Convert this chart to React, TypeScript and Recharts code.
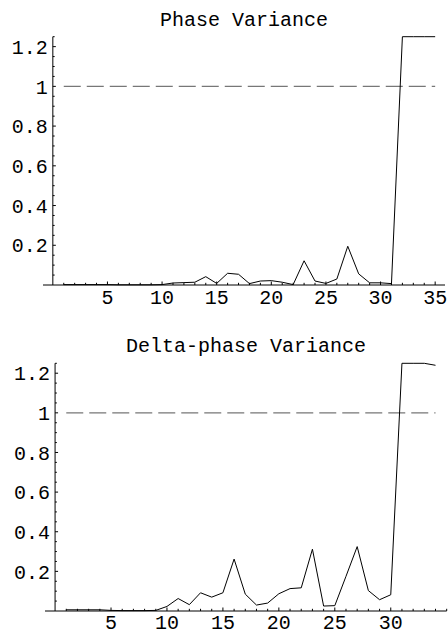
import { LineChart, Line, XAxis, YAxis, ReferenceLine } from "recharts";

// step index on the x axis
const phaseSteps = [
  1, 2, 3, 4, 5, 6, 7, 8, 9, 10, 11, 12, 13, 14, 15, 16, 17, 18,
  19, 20, 21, 22, 23, 24, 25, 26, 27, 28, 29, 30, 31, 32, 33, 34, 35,
];
const phaseVariance = [
  0.002, 0.002, 0.002, 0.002, 0.002, 0.001, 0.001, 0.001, 0.001, 0.002,
  0.01, 0.012, 0.014, 0.042, 0.008, 0.059, 0.054, 0.007, 0.02, 0.022,
  0.014, 0.002, 0.122, 0.02, 0.008, 0.03, 0.195, 0.056, 0.011, 0.011,
  0.007, 1.25, 1.25, 1.25, 1.25,
];

const deltaSteps = [
  1, 2, 3, 4, 5, 6, 7, 8, 9, 10, 11, 12, 13, 14, 15, 16, 17,
  18, 19, 20, 21, 22, 23, 24, 25, 26, 27, 28, 29, 30, 31, 32, 33, 34,
];
const deltaVariance = [
  0.006, 0.006, 0.006, 0.006, 0.003, 0.002, 0.002, 0.002, 0.003, 0.023,
  0.063, 0.032, 0.092, 0.07, 0.092, 0.262, 0.085, 0.03, 0.04, 0.087,
  0.113, 0.117, 0.312, 0.025, 0.027, 0.175, 0.325, 0.103, 0.057, 0.082,
  1.25, 1.25, 1.25, 1.24,
];

const threshold = 1;
const yLabels = [0.2, 0.4, 0.6, 0.8, 1, 1.2];
const phaseXLabels = [5, 10, 15, 20, 25, 30, 35];
const deltaXLabels = [5, 10, 15, 20, 25, 30];

const FONT = '"Liberation Mono", "DejaVu Sans Mono", monospace';
const W = 448;

interface PanelProps {
  title: string;
  titleX: number;
  titleY: number;
  steps: number[];
  values: number[];
  xLabels: number[];
  xMin: number;
  xMax: number;
  height: number;
  margin: { top: number; right: number; bottom: number; left: number };
  labelOffset: number;
}

function Panel({ title, titleX, titleY, steps, values, xLabels, xMin, xMax, height, margin, labelOffset }: PanelProps) {
  const data = steps.map((s, i) => ({ step: s, v: values[i] }));
  // axes take 1px each, so the plot starts one pixel in
  const plotW = W - margin.left - 1 - margin.right;
  // the y axis sits at x = 0, not at the left edge of the plot
  const axisShift = (plotW * (0 - xMin)) / (xMax - xMin);

  const xTicks: number[] = [];
  for (let t = 1; t <= Math.floor(xMax); t++) xTicks.push(t);
  const yTicks: number[] = [];
  for (let k = 1; k <= 25; k++) yTicks.push(Math.round(k * 5) / 100);

  const isMajorY = (v: number) => yLabels.some((l) => Math.abs(l - v) < 1e-6);

  const YTick = (props: any) => {
    const { x, y, payload } = props;
    const major = isMajorY(payload.value);
    const ax = x + axisShift;
    return (
      <g>
        <line x1={ax} x2={ax + (major ? 3 : 1.8)} y1={y} y2={y} stroke="#000" strokeWidth={1} />
        {major && (
          <text x={ax - 5} y={y} dy="0.36em" textAnchor="end" fontFamily={FONT} fontSize={20} fill="#000">
            {String(payload.value)}
          </text>
        )}
      </g>
    );
  };

  const XTick = (props: any) => {
    const { x, y, payload } = props;
    const major = xLabels.includes(payload.value);
    return (
      <g>
        <line x1={x} x2={x} y1={y} y2={y - (major ? 3.5 : 2.2)} stroke="#000" strokeWidth={1} />
        {major && (
          <text x={x} y={y + labelOffset} textAnchor="middle" fontFamily={FONT} fontSize={20} fill="#000">
            {String(payload.value)}
          </text>
        )}
      </g>
    );
  };

  return (
    <div style={{ position: "relative", width: W, height }}>
      <LineChart width={W} height={height} data={data} margin={margin}>
        <XAxis
          type="number"
          dataKey="step"
          domain={[xMin, xMax]}
          ticks={xTicks}
          interval={0}
          height={1}
          tickSize={0}
          tickMargin={0}
          tickLine={false}
          tick={XTick}
          axisLine={false}
        />
        <YAxis
          type="number"
          domain={[0, 1.25]}
          ticks={yTicks}
          interval={0}
          width={1}
          tickSize={0}
          tickMargin={0}
          tickLine={false}
          tick={YTick}
          axisLine={false}
        />
        <ReferenceLine y={0} stroke="#000" strokeWidth={1} />
        <ReferenceLine x={0} stroke="#000" strokeWidth={1} />
        <ReferenceLine
          segment={[
            { x: steps[0], y: threshold },
            { x: steps[steps.length - 1], y: threshold },
          ]}
          stroke="#777"
          strokeWidth={1.1}
          strokeDasharray="17 6"
        />
        <Line
          type="linear"
          dataKey="v"
          stroke="#000"
          strokeWidth={1}
          dot={false}
          isAnimationActive={false}
        />
      </LineChart>
      <svg width={W} height={height} style={{ position: "absolute", left: 0, top: 0, pointerEvents: "none" }}>
        <text x={titleX} y={titleY} textAnchor="middle" fontFamily={FONT} fontSize={20} fill="#000">
          {title}
        </text>
      </svg>
    </div>
  );
}

export default function App() {
  return (
    <div style={{ position: "absolute", left: 0, top: 0, width: W, height: 630, background: "#fff" }}>
      <Panel
        title="Phase Variance"
        titleX={244}
        titleY={25.5}
        steps={phaseSteps}
        values={phaseVariance}
        xLabels={phaseXLabels}
        xMin={-0.9}
        xMax={35.9}
        height={315}
        margin={{ top: 36.7, right: 3, bottom: 29, left: 42 }}
        labelOffset={19}
      />
      <Panel
        title="Delta-phase Variance"
        titleX={246}
        titleY={37.3}
        steps={deltaSteps}
        values={deltaVariance}
        xLabels={deltaXLabels}
        xMin={-0.9}
        xMax={35}
        height={315}
        margin={{ top: 48.3, right: 1.3, bottom: 18, left: 44 }}
        labelOffset={17.5}
      />
    </div>
  );
}
